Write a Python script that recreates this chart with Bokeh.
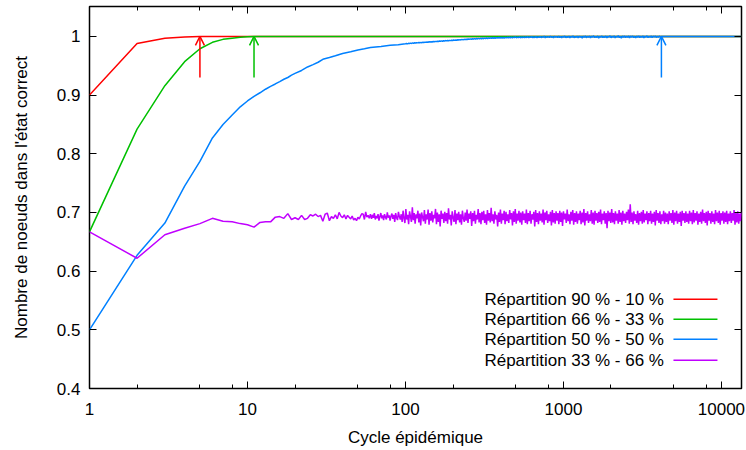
import numpy as np
from bokeh.plotting import figure
from bokeh.models import LogAxis, LinearAxis, FixedTicker, Arrow, OpenHead, Label
from bokeh.embed import file_html
from bokeh.resources import INLINE

# ---------------- data ----------------
series_names = ["Répartition 90 % - 10 %", "Répartition 66 % - 33 %",
                "Répartition 50 % - 50 %", "Répartition 33 % - 66 %"]
colors = ["#ff0000", "#00c000", "#0080ff", "#c000ff"]

x_max_cycle = 13400

red_x = [1, 2, 3, 4, 5, 13400]
red_y = [0.900, 0.988, 0.997, 0.999, 1.000, 1.000]

green_x = [1, 2, 3, 4, 5, 6, 7, 8, 9, 10, 11, 13400]
green_y = [0.667, 0.842, 0.916, 0.957, 0.979, 0.990, 0.995, 0.997, 0.9985, 0.9995, 1.000, 1.000]

blue_x_early = [1, 2, 3, 4, 5, 6, 7, 8, 9, 10, 11, 12, 13, 14, 15, 16, 17, 18, 19, 20,
                22, 24, 26, 28, 30, 33, 36, 40, 45, 50, 55, 60, 70, 80, 90]
blue_y_early = [0.500, 0.627, 0.682, 0.745, 0.787, 0.827, 0.850, 0.866, 0.880, 0.890,
                0.898, 0.904, 0.910, 0.915, 0.919, 0.923, 0.927, 0.930, 0.934, 0.937,
                0.942, 0.948, 0.952, 0.956, 0.961, 0.964, 0.967, 0.971, 0.974, 0.977,
                0.979, 0.981, 0.983, 0.985, 0.986]
# cycles 100 .. 4170 (log-spaced samples of the noisy part)
blue_noisy_start, blue_converged = 100, 4170
blue_y_noisy = [
    0.9875, 0.9878, 0.9873, 0.9882, 0.9880, 0.9886, 0.9881, 0.9889, 0.9885, 0.9891, 0.9887, 0.9893, 0.9890,
    0.9896, 0.9891, 0.9898, 0.9894, 0.9900, 0.9897, 0.9903, 0.9899, 0.9905, 0.9902, 0.9908, 0.9904,
    0.9910, 0.9906, 0.9913, 0.9909, 0.9916, 0.9911, 0.9919, 0.9914, 0.9921, 0.9917, 0.9924, 0.9919, 0.9926,
    0.9922, 0.9929, 0.9924, 0.9931, 0.9926, 0.9933, 0.9928, 0.9936, 0.9931, 0.9938, 0.9933, 0.9940,
    0.9935, 0.9943, 0.9938, 0.9946, 0.9940, 0.9949, 0.9942, 0.9951, 0.9945, 0.9953, 0.9947, 0.9956, 0.9949,
    0.9958, 0.9951, 0.9960, 0.9953, 0.9962, 0.9955, 0.9964, 0.9957, 0.9966, 0.9959, 0.9968, 0.9960,
    0.9970, 0.9961, 0.9972, 0.9963, 0.9974, 0.9964, 0.9976, 0.9966, 0.9977, 0.9967, 0.9979, 0.9968, 0.9980,
    0.9969, 0.9981, 0.9970, 0.9982, 0.9971, 0.9983, 0.9972, 0.9984, 0.9973, 0.9985, 0.9974, 0.9986,
    0.9975, 0.9987, 0.9976, 0.9990, 0.9974, 0.9988, 0.9978, 0.9991, 0.9977, 0.9989, 0.9980, 0.9993, 0.9976,
    0.9990, 0.9981, 0.9994, 0.9978, 0.9991, 0.9982, 0.9995, 0.9979, 0.9992, 0.9983, 0.9996, 0.9980,
    0.9993, 0.9981, 0.9997, 0.9979, 0.9994, 0.9984, 0.9999, 0.9980, 0.9995, 0.9985, 1.0002, 0.9978, 0.9996,
    0.9986, 0.9998, 0.9982, 1.0003, 0.9984, 0.9997, 0.9976, 1.0001, 0.9987, 0.9996, 0.9981, 1.0004,
    0.9983, 0.9999, 0.9977, 1.0002, 0.9986, 1.0006, 0.9979, 0.9998, 0.9985, 1.0003, 0.9974, 1.0001, 0.9988,
    1.0007, 0.9980, 0.9997, 0.9984, 1.0005, 0.9978, 1.0002, 0.9987, 0.9999, 0.9973, 1.0004, 0.9985,
    1.0008, 0.9979, 1.0001, 0.9986, 1.0005, 0.9976, 1.0003, 0.9988, 1.0010, 0.9981, 0.9998, 0.9984, 1.0006,
    0.9972, 1.0002, 0.9987, 1.0009, 0.9980, 1.0000, 0.9985, 1.0007, 0.9977, 1.0003, 0.9989, 1.0011,
    0.9978, 1.0004, 0.9986, 1.0008, 0.9975, 1.0001, 0.9988, 1.0012, 0.9981, 1.0003, 0.9970, 1.0006, 0.9987,
    1.0009, 0.9979, 1.0002, 0.9985, 1.0010, 0.9976, 1.0005, 0.9989, 1.0007, 0.9982, 1.0001, 0.9974,
    1.0006, 0.9987, 1.0010, 0.9980, 1.0003, 0.9985, 1.0008, 0.9977, 1.0004, 0.9988, 1.0011, 0.9981, 1.0002,
    0.9986, 1.0007, 0.9979, 1.0005, 0.9990, 1.0009, 0.9983, 1.0003, 0.9987, 1.0006, 0.9991, 1.0000,
]
blue_x_late = [4170, 13400]
blue_y_late = [1.000, 1.000]

purple_x_early = list(range(1, 61))
purple_y_early = [
    0.667, 0.622, 0.662, 0.673, 0.681, 0.690, 0.685, 0.684, 0.681, 0.679,
    0.675, 0.683, 0.684, 0.684, 0.692, 0.693, 0.690, 0.698, 0.688, 0.691,
    0.688, 0.695, 0.688, 0.690, 0.696, 0.694, 0.697, 0.693, 0.695, 0.685,
    0.697, 0.699, 0.686, 0.693, 0.690, 0.696, 0.689, 0.700, 0.694, 0.691,
    0.696, 0.689, 0.695, 0.692, 0.689, 0.694, 0.687, 0.690, 0.686, 0.692,
    0.689, 0.694, 0.698, 0.697, 0.688, 0.701, 0.692, 0.695, 0.690, 0.697,
]
# cycles 61 .. 13400 (log-spaced samples of the noisy part)
purple_noisy_start = 61
purple_y_noisy = [
    0.689, 0.696, 0.691, 0.699, 0.688, 0.694, 0.690, 0.697, 0.686, 0.693, 0.699, 0.690, 0.695, 0.687, 0.697, 0.692, 0.688, 0.700, 0.691, 0.695,
    0.686, 0.694, 0.698, 0.689, 0.696, 0.684, 0.699, 0.691, 0.687, 0.701, 0.693, 0.688, 0.697, 0.684, 0.703, 0.690, 0.682, 0.706, 0.688, 0.696,
    0.680, 0.702, 0.693, 0.684, 0.709, 0.687, 0.699, 0.681, 0.697, 0.690, 0.703, 0.683, 0.698, 0.678, 0.700, 0.692, 0.685, 0.704, 0.681, 0.697,
    0.688, 0.705, 0.679, 0.699, 0.686, 0.702, 0.683, 0.696, 0.690, 0.706, 0.680, 0.700, 0.684, 0.697, 0.676, 0.703, 0.689, 0.698, 0.682, 0.701,
    0.685, 0.699, 0.681, 0.707, 0.688, 0.696, 0.678, 0.702, 0.691, 0.684, 0.704, 0.680, 0.698, 0.687, 0.701, 0.683, 0.697, 0.679, 0.703, 0.690,
    0.684, 0.700, 0.686, 0.705, 0.682, 0.698, 0.689, 0.702, 0.677, 0.699, 0.685, 0.703, 0.681, 0.696, 0.688, 0.706, 0.683, 0.699, 0.680, 0.701,
    0.687, 0.703, 0.682, 0.697, 0.679, 0.704, 0.686, 0.699, 0.683, 0.708, 0.685, 0.697, 0.681, 0.702, 0.688, 0.696, 0.676, 0.700, 0.684, 0.705,
    0.681, 0.698, 0.687, 0.703, 0.680, 0.701, 0.685, 0.697, 0.682, 0.704, 0.688, 0.699, 0.678, 0.702, 0.684, 0.706, 0.681, 0.698, 0.686, 0.703,
    0.683, 0.700, 0.679, 0.702, 0.687, 0.698, 0.682, 0.705, 0.680, 0.699, 0.685, 0.703, 0.681, 0.697, 0.688, 0.701, 0.676, 0.704, 0.684, 0.699,
    0.680, 0.702, 0.686, 0.698, 0.683, 0.705, 0.679, 0.700, 0.687, 0.703, 0.682, 0.697, 0.685, 0.701, 0.678, 0.704, 0.683, 0.699, 0.681, 0.702,
    0.686, 0.699, 0.680, 0.703, 0.684, 0.700, 0.677, 0.702, 0.688, 0.698, 0.682, 0.705, 0.685, 0.697, 0.680, 0.701, 0.686, 0.704, 0.679, 0.699,
    0.684, 0.702, 0.681, 0.698, 0.687, 0.703, 0.680, 0.700, 0.683, 0.706, 0.678, 0.699, 0.686, 0.702, 0.682, 0.697, 0.685, 0.704, 0.681, 0.700,
    0.679, 0.703, 0.686, 0.699, 0.682, 0.701, 0.684, 0.705, 0.680, 0.698, 0.687, 0.702, 0.681, 0.699, 0.673, 0.703, 0.685, 0.700, 0.682, 0.706,
    0.683, 0.699, 0.680, 0.702, 0.686, 0.698, 0.681, 0.704, 0.684, 0.700, 0.679, 0.703, 0.685, 0.698, 0.682, 0.701, 0.687, 0.705, 0.681, 0.714,
    0.684, 0.700, 0.680, 0.702, 0.686, 0.697, 0.682, 0.703, 0.679, 0.699, 0.685, 0.701, 0.681, 0.704, 0.683, 0.698, 0.687, 0.702, 0.680, 0.699,
    0.685, 0.703, 0.681, 0.698, 0.684, 0.701, 0.678, 0.704, 0.686, 0.699, 0.682, 0.702, 0.680, 0.697, 0.685, 0.703, 0.681, 0.700, 0.684, 0.698,
    0.680, 0.702, 0.686, 0.699, 0.682, 0.704, 0.679, 0.700, 0.685, 0.703, 0.681, 0.698, 0.684, 0.701, 0.677, 0.703, 0.686, 0.699, 0.682, 0.702,
    0.684, 0.698, 0.681, 0.703, 0.685, 0.700, 0.680, 0.704, 0.683, 0.699, 0.686, 0.702, 0.679, 0.698, 0.684, 0.701, 0.681, 0.705, 0.685, 0.699,
    0.682, 0.701, 0.678, 0.703, 0.686, 0.699, 0.681, 0.702, 0.684, 0.698, 0.680, 0.704, 0.685, 0.700, 0.682, 0.703, 0.679, 0.699, 0.686, 0.702,
    0.681, 0.700, 0.684, 0.703, 0.680, 0.698, 0.685, 0.702, 0.682, 0.699, 0.686, 0.704, 0.679, 0.700, 0.683, 0.702, 0.681, 0.698, 0.685, 0.701,
]

# convergence arrows (cycle where each curve reaches 1)
arrow_x = [5, 11, 4170]
arrow_colors = ["#ff0000", "#00c000", "#0080ff"]
arrow_y_from, arrow_y_to = 0.93, 1.0

x_ticks = [1, 10, 100, 1000, 10000]
x_tick_labels = ["1", "10", "100", "1000", "10000"]
x_minor = [m * d for d in [1, 10, 100, 1000, 10000] for m in (2, 5, 8)]
y_ticks = [0.4, 0.5, 0.6, 0.7, 0.8, 0.9, 1.0]
y_tick_labels = ["0.4", "0.5", "0.6", "0.7", "0.8", "0.9", "1"]

# ---------------- assemble series ----------------
blue_x = blue_x_early + list(np.geomspace(blue_noisy_start, blue_converged, len(blue_y_noisy))) + blue_x_late
blue_y = blue_y_early + blue_y_noisy + blue_y_late
purple_x = purple_x_early + list(np.geomspace(purple_noisy_start, x_max_cycle, len(purple_y_noisy)))
purple_y = purple_y_early + purple_y_noisy

FONT = "Liberation Sans"
FS = "17px"
Y_MIN, Y_MAX = 0.4, 1.051

p = figure(width=746, height=450, x_axis_type="log",
           x_range=(1, x_max_cycle), y_range=(Y_MIN, Y_MAX),
           output_backend="svg", toolbar_location=None,
           min_border_left=89, min_border_right=5, min_border_top=6, min_border_bottom=62)
p.grid.visible = False
p.outline_line_color = "black"
p.outline_line_width = 1.5
p.background_fill_color = "white"
p.border_fill_color = "white"

series = [(red_x, red_y), (green_x, green_y), (blue_x, blue_y), (purple_x, purple_y)]
for (xs, ys), c in zip(series, colors):
    p.line(xs, ys, line_color=c, line_width=1.5)

for ax_x, c in zip(arrow_x, arrow_colors):
    p.add_layout(Arrow(x_start=ax_x, y_start=arrow_y_from, x_end=ax_x, y_end=arrow_y_to,
                       line_color=c, line_width=1.5,
                       end=OpenHead(size=9, line_color=c, line_width=1.5)))

def style_axis(ax, labels=True):
    ax.axis_line_color = None
    ax.major_tick_in = 7
    ax.major_tick_out = 0
    ax.minor_tick_in = 4
    ax.minor_tick_out = 0
    ax.major_tick_line_color = "black"
    ax.minor_tick_line_color = "black"
    ax.major_tick_line_width = 1
    ax.minor_tick_line_width = 1
    if labels:
        ax.major_label_text_font = FONT
        ax.major_label_text_font_size = FS
        ax.major_label_text_color = "black"
        ax.axis_label_text_font = FONT
        ax.axis_label_text_font_size = FS
        ax.axis_label_text_font_style = "normal"
        ax.axis_label_text_color = "black"
    else:
        ax.major_label_text_font_size = "1px"
        ax.major_label_text_alpha = 0
        ax.major_label_standoff = 0

xt = FixedTicker(ticks=x_ticks, minor_ticks=x_minor)
yt = FixedTicker(ticks=y_ticks, minor_ticks=[])

xa = p.xaxis[0]
xa.ticker = xt
xa.major_label_overrides = dict(zip(x_ticks, x_tick_labels))
xa.axis_label = "Cycle épidémique"
style_axis(xa)
xa.major_label_standoff = 14
xa.axis_label_standoff = 10

ya = p.yaxis[0]
ya.ticker = yt
ya.major_label_overrides = dict(zip(y_ticks, y_tick_labels))
ya.axis_label = "Nombre de noeuds dans l'état correct"
style_axis(ya)
ya.major_label_standoff = 9
ya.axis_label_standoff = 23

top = LogAxis(ticker=FixedTicker(ticks=x_ticks, minor_ticks=x_minor))
style_axis(top, labels=False)
p.add_layout(top, "above")
right = LinearAxis(ticker=FixedTicker(ticks=y_ticks, minor_ticks=[]))
style_axis(right, labels=False)
p.add_layout(right, "right")

# ---------------- legend (text left, sample line right) ----------------
legend_text_x = 316
legend_line_x = (4970, 9440)
legend_rows_y = [0.552, 0.518, 0.484, 0.448]
for name, c, ly in zip(series_names, colors, legend_rows_y):
    p.add_layout(Label(x=legend_text_x, y=ly, text=name, text_font=FONT, text_font_size=FS,
                       text_color="black", text_baseline="middle", text_align="left"))
    p.add_layout(Arrow(x_start=legend_line_x[0], y_start=ly, x_end=legend_line_x[1], y_end=ly,
                       line_color=c, line_width=1.5, end=None, start=None))

open("out.html", "w").write(file_html(p, INLINE))
